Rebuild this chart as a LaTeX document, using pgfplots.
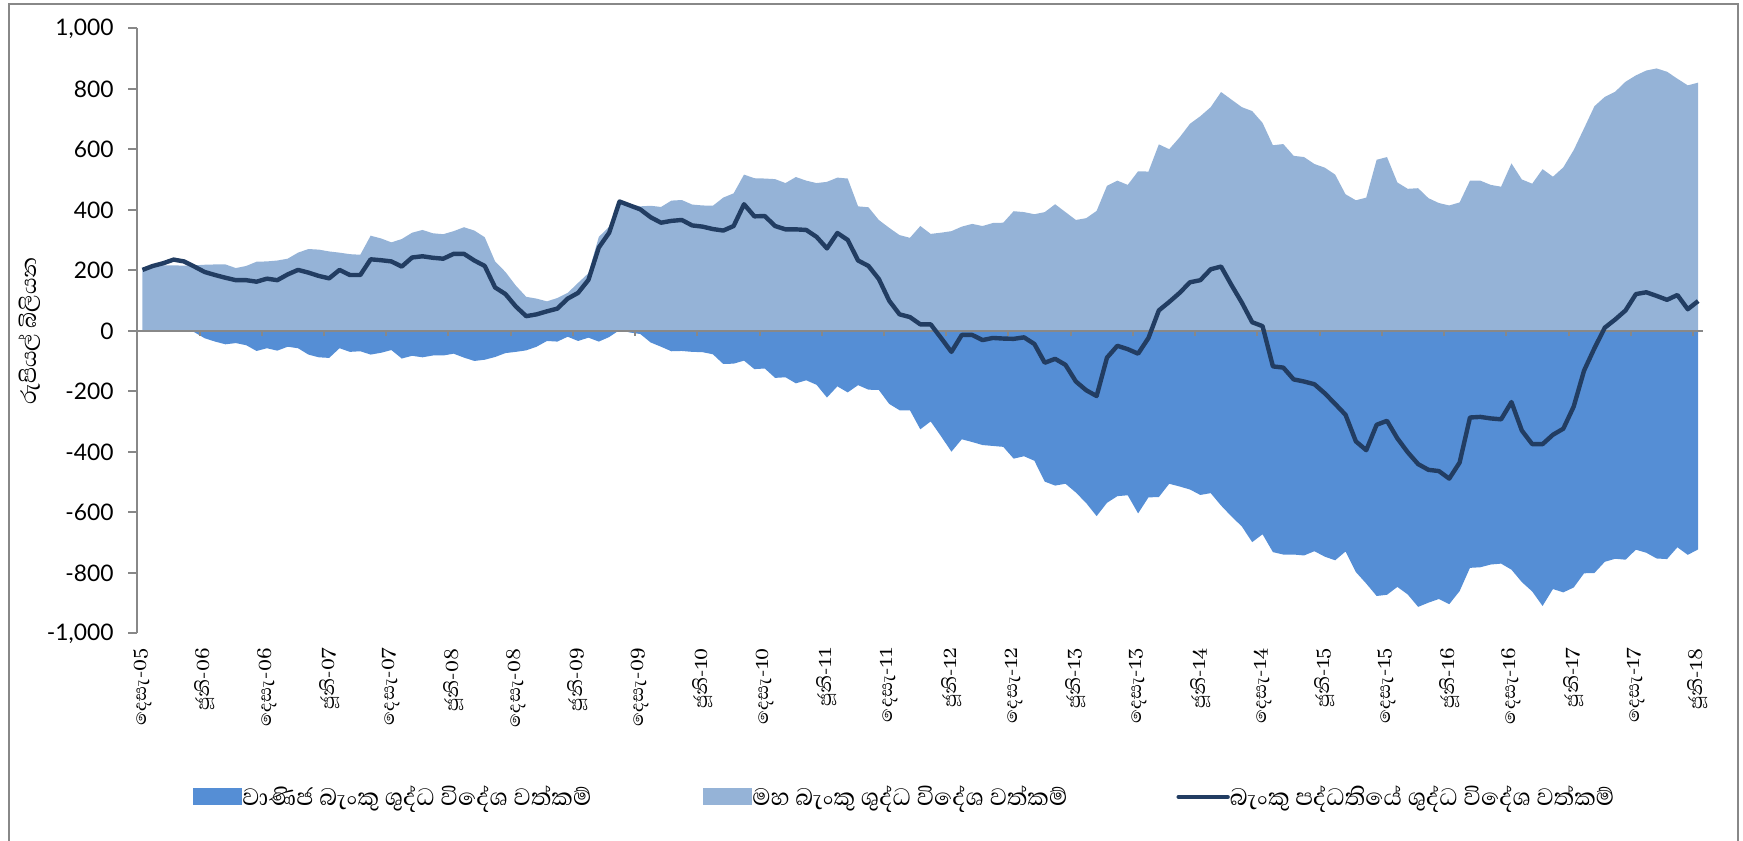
\documentclass[border=0pt]{standalone}
\usepackage{fontspec}
\usepackage{pgfplots}
\usepackage{pgfplotstable}
\pgfplotsset{compat=1.18}
\setmainfont{Abhaya Libre}[Script=Sinhala]
\newfontfamily\numfont{Lato}

\definecolor{cmblue}{HTML}{558ED5}
\definecolor{cbblue}{HTML}{95B3D7}
\definecolor{totline}{HTML}{223D62}
\definecolor{axisgray}{HTML}{888888}

% i: month index (0 = Dec-05), cb: central bank, cm: commercial banks, tot: banking system
\pgfplotstableread{
i cb cm tot
0 200 2 202
1 210 5 215
2 217 7 224
3 217 19 236
4 216 14 230
5 217 -4 213
6 219 -24 195
7 220 -35 185
8 220 -44 176
9 208 -40 168
10 215 -47 168
11 229 -66 163
12 230 -57 173
13 233 -65 168
14 239 -52 187
15 259 -57 202
16 271 -78 193
17 269 -87 182
18 263 -89 174
19 259 -57 202
20 254 -69 185
21 252 -67 185
22 315 -78 237
23 306 -72 234
24 293 -63 230
25 304 -91 213
26 325 -82 243
27 334 -87 247
28 323 -81 242
29 320 -81 239
30 330 -75 255
31 343 -88 255
32 332 -99 233
33 310 -95 215
34 230 -86 144
35 195 -73 122
36 150 -69 81
37 113 -64 49
38 107 -52 55
39 98 -33 65
40 109 -35 74
41 126 -19 107
42 159 -33 126
43 191 -22 169
44 311 -35 276
45 345 -20 325
46 425 3 428
47 420 -5 415
48 412 -10 402
49 414 -38 376
50 410 -52 358
51 431 -67 364
52 433 -66 367
53 418 -69 349
54 415 -70 345
55 414 -77 337
56 441 -109 332
57 455 -108 347
58 517 -98 419
59 505 -126 379
60 504 -124 380
61 502 -155 347
62 489 -153 336
63 509 -173 336
64 497 -163 334
65 489 -178 311
66 493 -220 273
67 507 -183 324
68 504 -203 301
69 412 -179 233
70 409 -194 215
71 367 -195 172
72 341 -241 100
73 317 -262 55
74 308 -262 46
75 347 -325 22
76 321 -299 22
77 325 -348 -23
78 330 -399 -69
79 345 -358 -13
80 354 -367 -13
81 347 -377 -30
82 357 -380 -23
83 358 -383 -25
84 396 -422 -26
85 393 -414 -21
86 386 -429 -43
87 393 -498 -105
88 419 -511 -92
89 393 -505 -112
90 367 -534 -167
91 373 -569 -196
92 397 -612 -215
93 480 -568 -88
94 497 -546 -49
95 483 -543 -60
96 528 -603 -75
97 527 -550 -23
98 617 -549 68
99 601 -505 96
100 640 -514 126
101 685 -524 161
102 710 -542 168
103 740 -536 204
104 790 -577 213
105 765 -613 152
106 740 -646 94
107 727 -698 29
108 688 -672 16
109 614 -731 -117
110 618 -739 -121
111 579 -739 -160
112 575 -742 -167
113 552 -728 -176
114 540 -746 -206
115 517 -758 -241
116 452 -729 -277
117 432 -797 -365
118 441 -835 -394
119 566 -876 -310
120 575 -872 -297
121 491 -846 -355
122 470 -871 -401
123 472 -912 -440
124 439 -898 -459
125 423 -886 -463
126 415 -903 -488
127 425 -860 -435
128 497 -783 -286
129 497 -781 -284
130 483 -772 -289
131 477 -769 -292
132 554 -789 -235
133 501 -830 -329
134 487 -861 -374
135 535 -909 -374
136 510 -853 -343
137 541 -864 -323
138 598 -848 -250
139 670 -801 -131
140 743 -800 -57
141 774 -763 11
142 791 -753 38
143 824 -756 68
144 845 -723 122
145 861 -733 128
146 868 -752 116
147 857 -754 103
148 834 -715 119
149 812 -740 72
150 821 -722 99
}\nfa

\begin{document}
\begin{tikzpicture}
\useasboundingbox (0,0) rectangle (871.5pt,420pt);
\draw[axisgray, line width=1pt] (4.5pt,-5pt) -- (4.5pt,418.2pt) -- (869pt,418.2pt) -- (869pt,-5pt);

\begin{axis}[
  at={(68.65pt,103.25pt)}, anchor=south west,
  width=783pt, height=302.5pt, scale only axis,
  xmin=-0.5, xmax=150.5,
  ymin=-1000, ymax=1000,
  axis y line*=left, axis x line*=bottom,
  x axis line style={draw=none},
  y axis line style={axisgray, line width=1pt},
  xtick={0,6,...,150},
  xticklabels={දෙසැ-05,ජූනි-06,දෙසැ-06,ජූනි-07,දෙසැ-07,ජූනි-08,දෙසැ-08,ජූනි-09,දෙසැ-09,ජූනි-10,දෙසැ-10,ජූනි-11,දෙසැ-11,ජූනි-12,දෙසැ-12,ජූනි-13,දෙසැ-13,ජූනි-14,දෙසැ-14,ජූනි-15,දෙසැ-15,ජූනි-16,දෙසැ-16,ජූනි-17,දෙසැ-17,ජූනි-18},
  xtick style={draw=none},
  xtick align=inside,
  xticklabel style={rotate=90, anchor=east, inner sep=0pt, font=\fontsize{11.7pt}{13pt}\selectfont},
  xticklabel shift=7.2pt,
  ytick={-1000,-800,...,1000},
  ytick align=outside,
  ytick style={axisgray, line width=1pt},
  major tick length=4.5pt,
  scaled y ticks=false,
  yticklabel style={inner sep=0pt, font=\numfont\fontsize{11.4pt}{13pt}\selectfont},
  yticklabel shift=7.2pt,
  /pgf/number format/assume math mode=true,
  ylabel={රුපියල් බිලියන},
  ylabel style={at={(axis description cs:-0.0685,0.5)}, anchor=center, font=\fontsize{13.7pt}{15pt}\selectfont},
  legend columns=3,
  legend style={at={(axis description cs:0.0356,-0.2702)}, anchor=west, draw=none, fill=none,
    inner sep=0pt, nodes={inner sep=0pt, anchor=west}, font=\fontsize{15.2pt}{17pt}\selectfont,
    /tikz/every even column/.append style={column sep=3.5pt}},
]
\addplot[fill=cmblue, draw=none,
  legend image code/.code={\fill[cmblue] (0pt,-4.25pt) rectangle (24.5pt,4.25pt);}]
  table[x=i, y=cm]{\nfa} \closedcycle;
\addlegendentry{\makebox[227pt][l]{වාණිජ බැංකු ශුද්ධ විදේශ වත්කම්}}
\addplot[fill=cbblue, draw=none,
  legend image code/.code={\fill[cbblue] (0pt,-4.25pt) rectangle (24.5pt,4.25pt);}]
  table[x=i, y=cb]{\nfa} \closedcycle;
\addlegendentry{\makebox[208.5pt][l]{මහ බැංකු ශුද්ධ විදේශ වත්කම්}}
\draw[axisgray, line width=1pt] (axis cs:-0.5,0) -- (axis cs:150.5,0);
\pgfplotsinvokeforeach{5.5,11.5,...,149.5}{
  \draw[axisgray, line width=1pt] (axis cs:#1,0) -- ++(0pt,-2.5pt);
}
\addplot[totline, line width=2.2pt, line join=round,
  legend image code/.code={\draw[totline, line width=2.2pt, line cap=round] (0pt,0pt) -- (24.5pt,0pt);}]
  table[x=i, y=tot]{\nfa};
\addlegendentry{බැංකු පද්ධතියේ ශුද්ධ විදේශ වත්කම්}
\end{axis}
\end{tikzpicture}
\end{document}
